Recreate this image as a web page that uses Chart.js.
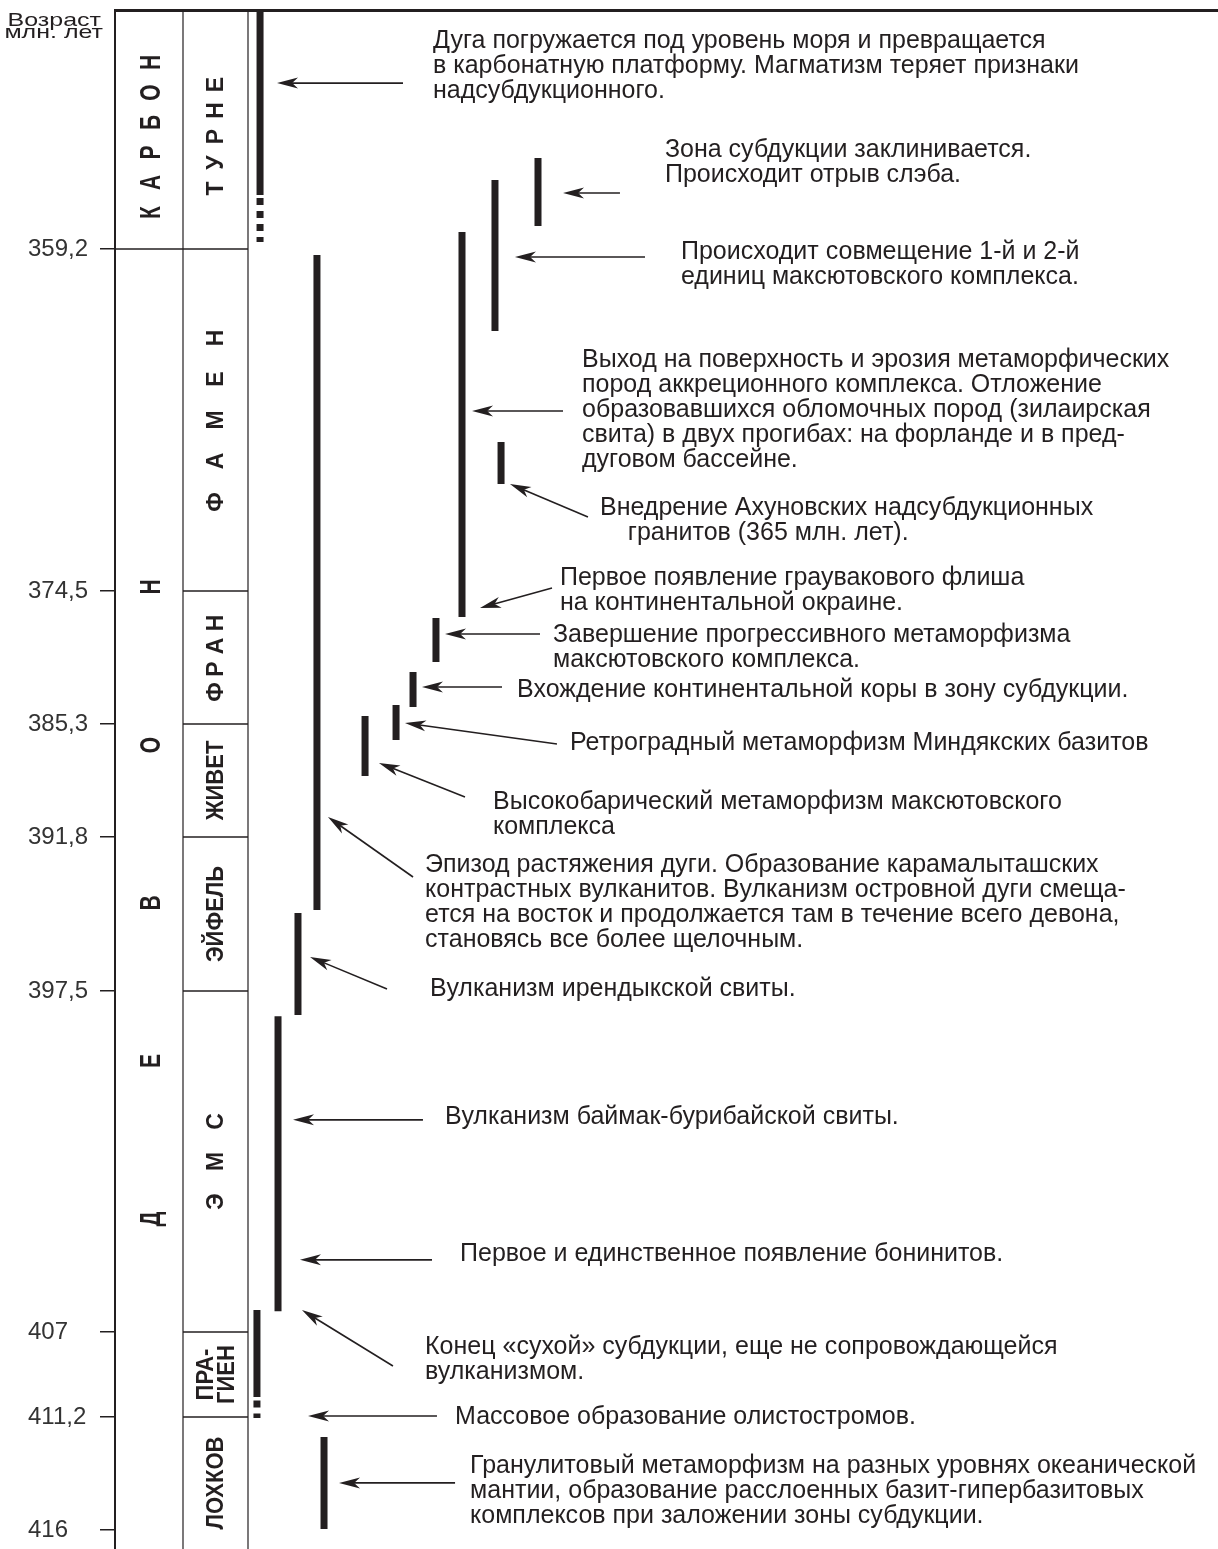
<!DOCTYPE html>
<html>
<head>
<meta charset="utf-8">
<script src="https://cdn.jsdelivr.net/npm/chart.js@4.4.1/dist/chart.umd.min.js"></script>
<style>
  html, body { margin: 0; padding: 0; background: #fff; }
  #wrap { width: 1218px; height: 1549px; position: relative; }
</style>
</head>
<body>
<div id="wrap"><canvas id="myChart"></canvas></div>
<script>
// age axis: breaks (Ma) and the drawn height of each interval between them
const scaleBreaks = [345.3, 359.2, 374.5, 385.3, 391.8, 397.5, 407, 411.2, 416, 416.8];
const scaleWeights = [239, 342, 133, 113, 154, 341, 85, 113, 19];
const tickAges = [359.2, 374.5, 385.3, 391.8, 397.5, 407, 411.2, 416];

const systemNames = ["КАРБОН", "ДЕВОН"];
const systemFrom = [345.3, 359.2];
const systemTo = [359.2, 416.8];

const stageNames = ["ТУРНЕ", "ФАМЕН", "ФРАН", "ЖИВЕТ", "ЭЙФЕЛЬ", "ЭМС", "ПРА-\nГИЕН", "ЛОХКОВ"];
const stageFrom = [345.3, 359.2, 374.5, 385.3, 391.8, 397.5, 407, 411.2];
const stageTo = [359.2, 374.5, 385.3, 391.8, 397.5, 407, 411.2, 416.8];

// event bars: lane (0..100 across the plot) and age span
const barLane = [13.15, 38.35, 34.45, 31.46, 35.0, 29.1, 27.02, 25.48, 22.67, 18.31, 16.59, 14.78, 12.87, 18.95];
const barFrom = [345.3, 353.91, 355.19, 358.21, 367.83, 376.69, 381.08, 383.76, 384.65, 359.47, 394.61, 398.2, 406.39, 412.05];
const barTo = [356.06, 357.86, 362.87, 376.61, 369.71, 380.27, 383.92, 386.22, 388.29, 394.5, 398.17, 406.42, 410.21, 415.96];

// dotted continuations
const dotLane = [13.15, 12.87];
const dotFrom = [356.23, 410.38];
const dotTo = [358.79, 411.24];

// comments
const noteText = [
  ["Дуга погружается под уровень моря и превращается", "в карбонатную платформу. Магматизм теряет признаки", "надсубдукционного."],
  ["Зона субдукции заклинивается.", "Происходит отрыв слэба."],
  ["Происходит совмещение 1-й и 2-й", "единиц максютовского комплекса."],
  ["Выход на поверхность и эрозия метаморфических", "пород аккреционного комплекса. Отложение", "образовавшихся обломочных пород (зилаирская", "свита) в двух прогибах: на форланде и в пред-", "дуговом бассейне."],
  ["Внедрение Ахуновских надсубдукционных", "    гранитов (365 млн. лет)."],
  ["Первое появление граувакового флиша", "на континентальной окраине."],
  ["Завершение прогрессивного метаморфизма", "максютовского комплекса."],
  ["Вхождение континентальной коры в зону субдукции."],
  ["Ретроградный метаморфизм Миндякских базитов"],
  ["Высокобарический метаморфизм максютовского", "комплекса"],
  ["Эпизод растяжения дуги. Образование карамалыташских", "контрастных вулканитов. Вулканизм островной дуги смеща-", "ется на восток и продолжается там в течение всего девона,", "становясь все более щелочным."],
  ["Вулканизм ирендыкской свиты."],
  ["Вулканизм баймак-бурибайской свиты."],
  ["Первое и единственное появление бонинитов."],
  ["Конец «сухой» субдукции, еще не сопровождающейся", "вулканизмом."],
  ["Массовое образование олистостромов."],
  ["Гранулитовый метаморфизм на разных уровнях океанической", "мантии, образование расслоенных базит-гипербазитовых", "комплексов при заложении зоны субдукции."]
];
const noteLane = [28.83, 49.86, 51.31, 42.34, 43.97, 40.34, 39.71, 36.45, 41.25, 34.27, 28.11, 28.56, 29.92, 31.28, 28.11, 30.83, 32.19];
const noteAge = [347.1, 353.44, 359.33, 364.17, 370.79, 373.92, 378.07, 382.54, 386.39, 389.79, 392.84, 397.43, 401.01, 404.83, 407.74, 411.2, 413.28];

// arrows: tail -> head
const arrowFromLane = [26.11, 45.78, 48.05, 40.62, 42.88, 39.62, 38.53, 35.09, 40.07, 31.73, 27.02, 24.66, 27.92, 28.74, 25.2, 29.19, 30.83];
const arrowFromAge = [349.55, 355.94, 359.56, 366.45, 371.19, 374.37, 377.99, 382.3, 386.45, 389.5, 393.28, 397.43, 401.09, 404.99, 408.68, 411.15, 414.0];
const arrowToLane = [14.69, 40.62, 36.26, 32.37, 35.81, 33.09, 29.92, 27.83, 26.29, 23.93, 19.31, 17.68, 16.14, 16.77, 16.95, 17.5, 20.31];
const arrowToAge = [349.55, 355.94, 359.56, 366.45, 369.71, 375.88, 377.99, 382.3, 385.22, 387.54, 390.65, 396.24, 401.09, 404.99, 406.39, 411.15, 414.0];

const ink = "#231f20";
const textFont = "'Liberation Sans', Arial, sans-serif";

const cum = [0];
scaleWeights.forEach((w, i) => cum.push(cum[i] + w));
const total = cum[cum.length - 1];

function ageToUnit(age) {
  const n = scaleBreaks.length - 1;
  for (let i = 0; i < n; i++) {
    if (age <= scaleBreaks[i + 1] || i === n - 1) {
      const f = (age - scaleBreaks[i]) / (scaleBreaks[i + 1] - scaleBreaks[i]);
      return (cum[i] + f * scaleWeights[i]) / total;
    }
  }
}
function unitToAge(u) {
  const t = u * total;
  const n = scaleWeights.length;
  for (let i = 0; i < n; i++) {
    if (t <= cum[i + 1] || i === n - 1) {
      const f = (t - cum[i]) / scaleWeights[i];
      return scaleBreaks[i] + f * (scaleBreaks[i + 1] - scaleBreaks[i]);
    }
  }
}

// piecewise-linear stratigraphic scale
class StrataScale extends Chart.LinearScale {
  getPixelForValue(value) {
    return this.top + ageToUnit(value) * (this.bottom - this.top);
  }
  getValueForPixel(pixel) {
    return unitToAge((pixel - this.top) / (this.bottom - this.top));
  }
}
StrataScale.id = "strata";
StrataScale.defaults = Chart.LinearScale.defaults;
Chart.register(StrataScale);

function line(ctx, x0, y0, x1, y1) {
  ctx.beginPath();
  ctx.moveTo(x0, y0);
  ctx.lineTo(x1, y1);
  ctx.stroke();
}

function arrow(ctx, x0, y0, x1, y1) {
  const ang = Math.atan2(y1 - y0, x1 - x0);
  const len = 21, half = 5.5;
  ctx.lineWidth = 1.6;
  line(ctx, x0, y0, x1 - Math.cos(ang) * len * 0.7, y1 - Math.sin(ang) * len * 0.7);
  ctx.save();
  ctx.translate(x1, y1);
  ctx.rotate(ang);
  ctx.beginPath();
  ctx.moveTo(0, 0);
  ctx.lineTo(-len, -half);
  ctx.lineTo(-len * 0.72, 0);
  ctx.lineTo(-len, half);
  ctx.closePath();
  ctx.fill();
  ctx.restore();
}

// vertical text, letters spread out by pitch (0 = normal run)
function vText(ctx, s, cx, cy, pitch, stretch) {
  ctx.save();
  ctx.translate(cx, cy);
  ctx.rotate(-Math.PI / 2);
  ctx.scale(1, stretch);
  ctx.textAlign = "center";
  ctx.textBaseline = "middle";
  if (pitch > 0) {
    const n = s.length;
    for (let i = 0; i < n; i++) {
      ctx.fillText(s[i], (i - (n - 1) / 2) * pitch, 0);
    }
  } else {
    const rows = s.split("\n");
    rows.forEach((r, k) => ctx.fillText(r, 0, (k - (rows.length - 1) / 2) * 21 / stretch));
  }
  ctx.restore();
}

const systemPitch = [30, 158];
const stagePitch = [26, 41, 23, 0, 0, 40, 0, 0];

const strataPlugin = {
  id: "strataPlugin",
  beforeDraw(chart) {
    const { ctx } = chart;
    ctx.save();
    ctx.fillStyle = "#fff";
    ctx.fillRect(0, 0, chart.width, chart.height);
    ctx.restore();
  },
  afterDatasetsDraw(chart) {
    const { ctx, chartArea: a, scales: { x, y } } = chart;
    const colA = a.left, colB = a.left + 68, colC = a.left + 133;
    ctx.save();
    ctx.strokeStyle = ink;
    ctx.fillStyle = ink;

    ctx.lineWidth = 1.2;
    line(ctx, colB, a.top, colB, a.bottom);
    line(ctx, colC, a.top, colC, a.bottom);
    ctx.lineWidth = 1.6;
    stageFrom.forEach((age, i) => {
      if (i === 0) return;
      const py = y.getPixelForValue(age);
      const x0 = systemFrom.includes(age) ? colA : colB;
      line(ctx, x0, py, colC, py);
    });

    // system column
    ctx.font = "bold 21px " + textFont;
    systemNames.forEach((s, i) => {
      const cy = (y.getPixelForValue(systemFrom[i]) + y.getPixelForValue(systemTo[i])) / 2;
      vText(ctx, s, (colA + colB) / 2 + 3, cy + (i === 0 ? 8 : 4), systemPitch[i], 1.4);
    });

    // stage column
    stageNames.forEach((s, i) => {
      const cy = (y.getPixelForValue(stageFrom[i]) + y.getPixelForValue(stageTo[i])) / 2;
      ctx.font = (stagePitch[i] > 0 ? "bold 23px " : "bold 22px ") + textFont;
      vText(ctx, s, (colB + colC) / 2 + 1, cy + (i === 0 ? 7 : 0), stagePitch[i], stagePitch[i] > 0 ? 1 : 1.08);
    });

    // axis caption
    ctx.save();
    ctx.font = "25px " + textFont;
    ctx.textAlign = "right";
    ctx.textBaseline = "alphabetic";
    ctx.scale(1, 0.72);
    ctx.fillText("Возраст", 101, 26 / 0.72);
    ctx.fillText("млн. лет", 103, 38 / 0.72);
    ctx.restore();

    // arrows
    arrowFromLane.forEach((l, i) => {
      arrow(ctx,
        x.getPixelForValue(l), y.getPixelForValue(arrowFromAge[i]),
        x.getPixelForValue(arrowToLane[i]), y.getPixelForValue(arrowToAge[i]));
    });

    // comments
    ctx.font = "25px " + textFont;
    ctx.textAlign = "left";
    ctx.textBaseline = "middle";
    noteText.forEach((rows, i) => {
      const px = x.getPixelForValue(noteLane[i]);
      const py = y.getPixelForValue(noteAge[i]);
      rows.forEach((r, k) => ctx.fillText(r, px, py + k * 25));
    });
    ctx.restore();
  }
};

const datasets = barLane.map((lane, i) => ({
  data: [{ x: lane, y: barFrom[i] }, { x: lane, y: barTo[i] }],
  borderColor: ink,
  borderWidth: 7,
  borderCapStyle: "butt",
  pointRadius: 0,
  fill: false
}));
dotLane.forEach((lane, i) => datasets.push({
  data: [{ x: lane, y: dotFrom[i] }, { x: lane, y: dotTo[i] }],
  borderColor: ink,
  borderWidth: 7,
  borderDash: [7, 6],
  borderCapStyle: "butt",
  pointRadius: 0,
  fill: false
}));

const config = {
  type: "line",
  data: { datasets: datasets },
  options: {
    responsive: true,
    maintainAspectRatio: false,
    animation: false,
    layout: { padding: { left: 28, top: 10, right: 0, bottom: 0 } },
    plugins: { legend: { display: false }, tooltip: { enabled: false } },
    scales: {
      x: {
        type: "linear",
        position: "top",
        min: 0,
        max: 100,
        grid: { display: false },
        ticks: { display: false },
        border: { display: true, color: ink, width: 3 },
        afterFit: (s) => { s.height = 0; s.paddingLeft = 0; s.paddingRight = 0; }
      },
      y: {
        type: "strata",
        min: 345.3,
        max: 416.8,
        afterBuildTicks: (s) => { s.ticks = tickAges.map((v) => ({ value: v })); },
        afterFit: (s) => { s.width = 87; s.paddingTop = 0; s.paddingBottom = 0; },
        grid: { drawOnChartArea: false, drawTicks: true, tickLength: 15, color: ink, lineWidth: 1.5 },
        border: { display: true, color: ink, width: 2 },
        ticks: {
          autoSkip: false,
          crossAlign: "far",
          padding: 10,
          color: "#333",
          font: { family: "'Liberation Sans', Arial, sans-serif", size: 24 },
          callback: (v) => String(v).replace(".", ",")
        }
      }
    }
  },
  plugins: [strataPlugin]
};

var myChart = new Chart(document.getElementById("myChart"), config);
</script>
</body>
</html>
